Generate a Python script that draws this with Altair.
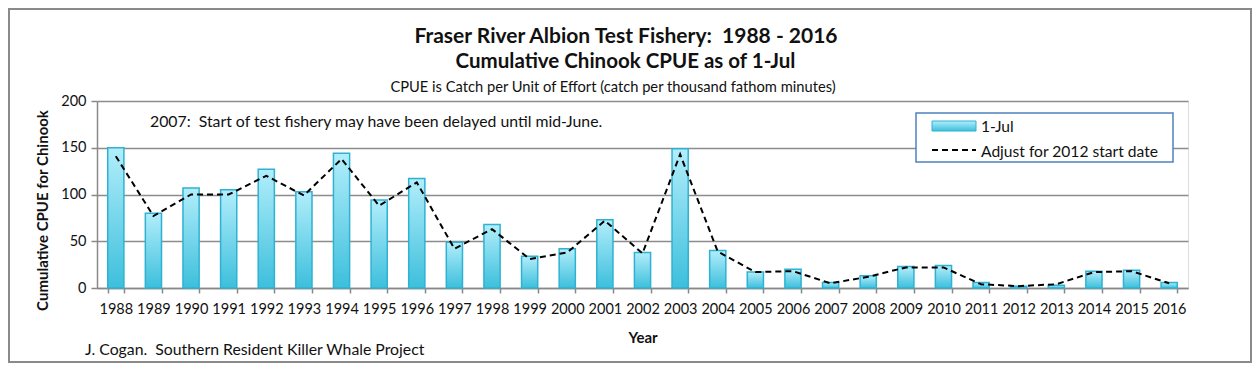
import altair as alt
import pandas as pd

years = [str(y) for y in range(1988, 2017)]
jul1 = [150, 80, 107, 105, 127, 103, 144, 94, 117, 49, 68, 34, 42, 73, 38,
        149, 40, 17, 20, 6, 13, 23, 24, 6, 2, 3, 18, 19, 6]
adjusted = [141, 77, 100, 100, 120, 99, 138, 88, 113, 42, 63, 31, 38, 72, 37,
            143, 39, 17, 18, 5, 12, 22, 22, 4, 2, 4, 17, 18, 5]

title1 = "Fraser River Albion Test Fishery:\u00a0 1988 - 2016"
title2 = "Cumulative Chinook CPUE as of 1-Jul"
subtitle = "CPUE is Catch per Unit of Effort (catch per thousand fathom minutes)"
note_text = "2007:\u00a0 Start of test fishery may have been delayed until mid-June."
credit_text = "J. Cogan.\u00a0 Southern Resident Killer Whale Project"
legend_labels = ["1-Jul", "Adjust for 2012 start date"]

df = pd.DataFrame({"Year": years, "jul1": jul1, "adj": adjusted})

FONT = "Lato"
W, H = 1091, 187
PL, PT = 89, 93
SVG_W, SVG_H = 1244, 355

grad = alt.Gradient(
    gradient="linear",
    stops=[alt.GradientStop(color="#b2eefb", offset=0),
           alt.GradientStop(color="#3dbfdc", offset=1)],
    x1=0, x2=0, y1=0, y2=1,
)

xenc = alt.X("Year:O", title="Year",
             scale=alt.Scale(paddingInner=0.57, paddingOuter=0.285),
             axis=alt.Axis(labelAngle=0, labelFont=FONT, labelFontSize=14.5,
                           labelColor="#111", labelPadding=9, tickBand="extent",
                           tickSize=5, tickColor="#888", tickWidth=1.5,
                           domainColor="#888", domainWidth=1.5,
                           titleFont=FONT, titleFontSize=15, titleFontWeight="bold",
                           titleColor="#111", titleY=54, titleBaseline="alphabetic"))

yenc = alt.Y("jul1:Q", title="Cumulative CPUE for Chinook",
             scale=alt.Scale(domain=[0, 200]),
             axis=alt.Axis(values=[0, 50, 100, 150, 200], labelFont=FONT,
                           labelFontSize=14.5, labelColor="#111", labelPadding=5,
                           tickSize=6, tickColor="#888", tickWidth=1.5,
                           domainColor="#888", domainWidth=1.5,
                           grid=True, gridColor="#8c8c8c", gridWidth=1.5,
                           titleFont=FONT, titleFontSize=15, titleFontWeight="bold",
                           titleColor="#111", titleAngle=-90, titleX=-50,
                           titleY=109, titleBaseline="alphabetic"))

bars = alt.Chart(df).mark_bar(color=grad, stroke="#2fb2d2", strokeWidth=1.5).encode(
    x=xenc, y=yenc)

line = alt.Chart(df).mark_line(color="black", strokeWidth=2, strokeDash=[6, 4]).encode(
    x="Year:O", y="adj:Q")

one = alt.Data(values=[{}])


def txt(s, x, y, size, weight="normal", align="left"):
    return alt.Chart(one).mark_text(align=align, baseline="alphabetic", font=FONT,
                                    fontSize=size, fontWeight=weight,
                                    color="#111").encode(
        x=alt.value(x), y=alt.value(y), text=alt.value(s))


# outer frame
frame = alt.Chart(one).mark_rect(fill=None, stroke="#8a8a8a", strokeWidth=2).encode(
    x=alt.value(-PL + 1), x2=alt.value(SVG_W - PL - 1),
    y=alt.value(-PT + 1), y2=alt.value(SVG_H - PT - 1))

# legend box
leg_box = alt.Chart(one).mark_rect(fill="white", stroke="#4f81bd", strokeWidth=1.5).encode(
    x=alt.value(819), x2=alt.value(1076), y=alt.value(12), y2=alt.value(61))
leg_bar = alt.Chart(one).mark_rect(color=grad, stroke="#2fb2d2", strokeWidth=1).encode(
    x=alt.value(835), x2=alt.value(879), y=alt.value(20), y2=alt.value(30))
leg_line = alt.Chart(one).mark_rule(color="black", strokeWidth=2, strokeDash=[6, 4]).encode(
    x=alt.value(835), x2=alt.value(879), y=alt.value(49))

layers = [frame, bars, line, leg_box, leg_bar, leg_line,
          txt(legend_labels[0], 884, 31, 15.6),
          txt(legend_labels[1], 884, 55.5, 15.6),
          txt(note_text, 53, 26, 15.8),
          txt(credit_text, -12, 254, 15.8),
          txt(title1, 529, -58, 21, "bold", "center"),
          txt(title2, 528.5, -33, 20.5, "bold", "center"),
          txt(subtitle, 516, -9, 14.7, "normal", "center")]

chart = alt.layer(*layers).properties(
    width=W, height=H,
    autosize="none",
    padding={"left": PL, "top": PT, "right": SVG_W - PL - W, "bottom": SVG_H - PT - H},
).configure_view(stroke=None).configure(background="white")

chart.save("out.html", embed_options={"renderer": "svg", "actions": False})
